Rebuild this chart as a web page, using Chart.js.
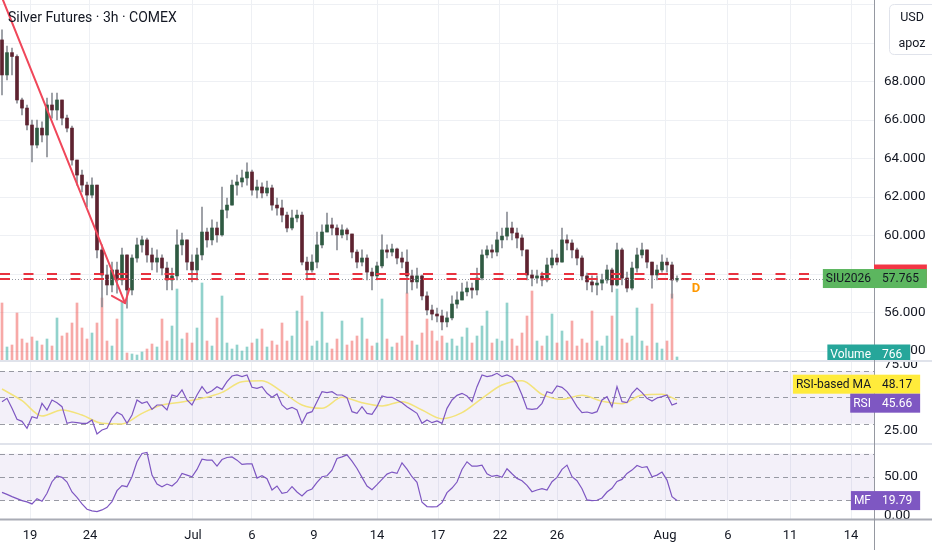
<!DOCTYPE html>
<html><head><meta charset="utf-8">
<script src="https://cdn.jsdelivr.net/npm/chart.js@4.4.1/dist/chart.umd.min.js"></script>
<style>html,body{margin:0;padding:0;background:#fff;overflow:hidden}canvas{display:block}</style>
</head><body>
<canvas id="c" width="932" height="550"></canvas>
<script>
// ---- data (3h bars) ----
const firstOpen = 70.16;
const closes = [68.34,69.50,69.30,67.04,66.62,65.74,64.70,65.58,65.22,66.78,
66.52,67.04,66.10,65.58,63.92,63.14,62.62,62.10,62.62,59.25,
57.95,57.43,58.21,57.69,58.99,57.17,58.83,59.51,59.77,58.99,
58.62,58.83,58.31,57.69,57.90,59.51,59.77,58.62,58.21,58.99,
60.18,59.77,60.39,60.03,61.32,61.58,62.62,62.78,62.99,63.30,
62.36,62.52,62.21,62.47,61.58,61.43,61.06,60.39,60.91,61.06,
58.62,58.21,58.62,59.51,60.18,60.55,60.39,60.03,60.29,60.08,
59.14,58.62,58.83,58.10,57.90,58.42,59.25,59.14,59.30,58.83,
58.62,57.90,57.59,57.90,56.86,56.13,55.92,55.82,55.51,55.72,
56.44,56.65,57.07,57.27,57.17,57.79,58.99,59.25,59.14,59.77,
59.97,60.39,60.13,59.87,59.25,57.95,57.79,57.90,57.69,58.47,
58.83,58.62,59.77,59.61,59.25,58.83,57.90,57.59,57.43,57.53,
57.69,58.21,57.43,59.25,57.79,57.27,58.31,58.99,59.25,58.62,
57.95,58.21,58.62,58.47,57.69,57.765];
const highs = [70.68,69.84,69.74,69.38,67.14,66.78,66.00,66.00,65.90,67.14,
67.40,67.40,67.04,66.26,65.69,63.92,63.40,62.78,62.99,62.62,
59.51,58.47,58.62,58.62,59.35,58.83,58.99,59.87,59.97,59.87,
59.35,59.25,58.99,58.62,58.31,60.29,60.13,59.77,58.99,59.35,
61.48,60.39,60.81,60.70,62.52,61.95,62.88,63.14,63.40,63.77,
63.40,62.88,62.73,62.83,62.62,61.95,61.84,61.22,61.32,61.32,
61.22,58.88,58.99,60.18,60.55,61.17,60.91,60.55,60.55,60.39,
59.97,59.25,59.25,58.99,58.31,58.62,60.03,59.51,59.56,59.35,
59.14,59.25,58.21,58.31,57.95,57.07,56.39,56.23,56.13,56.03,
56.86,57.07,57.53,57.59,57.53,58.31,59.25,59.46,59.51,60.18,
60.39,61.22,60.70,60.39,60.03,59.25,58.21,58.21,58.10,58.83,
59.25,59.04,60.39,60.03,59.77,59.35,58.94,58.05,57.90,57.90,
58.00,58.47,58.31,59.61,59.35,58.10,58.62,59.35,59.61,59.25,
58.62,58.47,58.99,58.83,58.62,57.90];
const lows = [67.30,68.08,68.34,66.88,66.26,65.48,63.82,64.55,64.86,64.08,
66.10,66.00,65.74,65.38,63.66,62.62,62.26,61.48,61.95,58.83,
56.29,56.91,57.07,57.01,57.43,56.23,56.91,58.62,59.14,58.62,
58.21,58.10,57.95,57.17,57.17,57.69,58.99,58.21,57.59,57.69,
58.73,59.40,59.51,59.66,59.97,60.91,61.58,62.10,62.52,62.62,
62.10,61.95,61.95,62.05,61.32,61.06,60.70,60.18,60.29,60.70,
58.47,57.69,58.10,58.31,59.35,60.18,60.03,59.25,59.87,59.77,
58.83,58.31,58.42,57.69,57.17,57.69,58.31,58.83,58.94,58.52,
58.31,57.01,57.17,57.27,56.65,55.87,55.61,55.51,55.09,55.25,
55.61,56.23,56.65,56.86,56.75,56.91,57.69,58.83,58.83,58.94,
59.35,59.77,59.77,59.35,58.94,57.69,57.38,57.53,57.38,57.59,
58.31,58.47,58.62,59.25,58.83,58.47,57.69,57.17,57.07,56.91,
57.17,57.53,57.07,57.38,57.43,57.07,57.17,58.10,58.83,58.31,
57.27,57.69,58.10,58.10,56.75,57.59];
const volumes = [11020,2660,3040,9120,4180,3420,4560,3800,3040,4180,
2850,8170,4750,5320,7220,11020,6270,4180,5320,7220,
11970,3800,2850,7980,11400,1520,1330,1140,1710,2280,
3230,2660,7980,3800,6650,13680,4180,5320,3420,6270,
14820,3800,2850,8170,12350,3420,2280,3040,1900,2660,
3420,4180,6080,2660,3800,3040,7220,3800,4750,9500,
12350,7600,2850,3800,9310,3420,2280,4180,7600,3040,
3800,4750,8170,4180,2850,3420,11780,4180,2660,3420,
4750,12920,3800,3040,5320,7980,5700,3800,4750,3420,
4180,2850,4560,6270,3420,4750,6650,9500,3420,4180,
3800,11020,4180,2850,5320,8550,13300,3800,2850,4750,
8930,3420,5700,3800,7600,2850,4180,3420,9500,3800,
2850,4750,8550,13680,4180,3420,4750,10070,3800,2850,
10830,3420,2280,3800,12730,766];
const rsi = [46.82,49.36,41.73,33.33,31.80,26.46,35.37,34.09,45.55,40.46,
48.09,46.05,43.00,30.27,31.29,30.78,30.27,30.27,32.82,22.13,
25.19,26.46,34.09,38.67,36.64,30.27,36.64,48.09,45.55,46.82,
40.96,44.27,44.27,40.46,51.91,50.64,55.73,48.09,44.27,51.91,
58.27,53.18,55.22,58.27,56.23,62.09,66.41,67.18,65.91,67.18,
57.76,56.99,58.27,53.18,50.13,52.67,44.27,40.96,42.49,40.46,
30.27,37.91,39.18,46.82,54.45,53.69,54.45,51.91,51.91,49.87,
39.18,37.91,43.00,37.91,37.15,43.00,51.14,50.13,50.13,48.09,
46.05,43.00,40.46,37.91,30.27,32.82,30.78,32.06,30.27,41.73,
48.09,51.65,53.18,51.14,46.82,58.27,67.18,65.91,66.67,68.45,
65.91,67.18,65.40,60.82,51.91,41.47,40.96,41.47,45.55,54.45,
53.18,58.78,57.76,54.45,49.36,43.00,38.42,38.93,37.91,39.18,
48.09,50.64,43.00,58.27,46.82,46.05,53.18,57.25,53.69,49.36,
47.33,49.62,50.64,51.91,44.27,45.66];
const rsiMaIdx = [0,4,8,12,16,20,24,28,32,36,40,44,48,52,56,60,64,68,72,76,80,84,88,92,96,100,104,108,112,116,120,124,128,132,135];
const rsiMa = [56.49,47.58,35.87,40.46,36.64,30.27,29.77,37.91,44.27,46.56,49.36,53.94,62.09,62.85,54.45,44.27,41.73,50.13,46.05,43.51,46.82,40.46,33.84,38.42,49.36,59.54,62.85,52.42,48.60,51.65,47.07,45.29,51.91,52.42,48.17];
const mfi = [30.4,27.8,24.9,22.3,19.8,18.1,15.5,22.3,18.9,29.1,
44.0,51.3,49.6,43.6,30.8,24.0,15.5,8.7,6.6,5.7,
7.8,11.2,18.5,32.5,38.9,37.6,50.4,69.6,80.2,81.5,
52.5,41.0,37.6,41.0,38.5,44.0,54.7,52.5,50.4,59.8,
73.0,71.7,71.7,64.0,72.5,75.1,75.9,71.7,66.2,67.0,
67.0,48.7,51.7,47.9,33.4,38.5,29.1,30.4,37.6,30.8,
25.7,32.1,34.7,43.2,50.4,51.7,58.9,73.8,75.9,78.5,
70.4,61.0,49.6,38.5,33.8,40.2,47.0,53.8,56.4,54.7,
68.3,60.2,50.4,43.2,17.6,12.1,11.7,12.1,17.2,30.0,
35.9,43.6,59.8,69.6,64.0,64.0,65.3,54.2,50.8,52.1,
49.6,60.6,54.2,48.3,45.3,39.3,31.2,33.4,35.1,33.4,
44.0,49.6,59.8,65.3,50.4,45.3,35.1,20.6,19.8,20.2,
23.2,30.8,35.5,44.4,47.0,54.7,58.9,64.9,62.3,63.2,
50.4,52.5,56.4,46.1,24.9,19.79];
const tickIdx = [5.6,17.6,38.2,50,62.4,75,87.2,99.6,111,132.6,145.2,157.6,169.8];
const tickLabels = ['19','24','Jul','6','9','14','17','22','26','Aug','6','11','14'];
const priceTicks = [54,56,58,60,62,64,66,68,70,72];
const hiddenPriceLabels = [70,72];
const lastPrice = 57.765;
const lastVolume = 766;
const levelLines = [58.00, 57.74];
const trendFrom = {x:0.2, y:72.23};
const trendTo = {x:24.6, y:56.49};
const divMark = {x:138.8, y:57.22};

// ---- derived ----
const opens = closes.map((c,i)=> i===0 ? firstOpen : closes[i-1]);
const up = closes.map((c,i)=> c >= opens[i]);
const FONT = 'Roboto, "Noto Sans", sans-serif';
const TXT = '#131722';

function rr(ctx,x,y,w,h,r){ctx.beginPath();ctx.moveTo(x+r,y);ctx.lineTo(x+w-r,y);ctx.quadraticCurveTo(x+w,y,x+w,y+r);ctx.lineTo(x+w,y+h-r);ctx.quadraticCurveTo(x+w,y+h,x+w-r,y+h);ctx.lineTo(x+r,y+h);ctx.quadraticCurveTo(x,y+h,x,y+h-r);ctx.lineTo(x,y+r);ctx.quadraticCurveTo(x,y,x+r,y);ctx.closePath();}
function noPad(s){s.paddingTop=0;s.paddingBottom=0;s.paddingLeft=0;s.paddingRight=0;}

const panes = {
  id:'panes',
  beforeDatasetsDraw(chart){
    const {ctx, chartArea:a, scales:{yr, ym}} = chart;
    ctx.save();
    ctx.fillStyle = 'rgba(126,87,194,0.09)';
    let t = yr.getPixelForValue(70), b = yr.getPixelForValue(30);
    ctx.fillRect(a.left, t, a.right-a.left, b-t);
    t = ym.getPixelForValue(80); b = ym.getPixelForValue(20);
    ctx.fillRect(a.left, t, a.right-a.left, b-t);
    ctx.strokeStyle = 'rgba(120,123,134,0.75)';
    ctx.lineWidth = 1; ctx.setLineDash([5,4]);
    const lv = [[yr,70],[yr,50],[yr,30],[ym,80],[ym,50],[ym,20]];
    lv.forEach(([s,v])=>{const y=Math.round(s.getPixelForValue(v))+0.5;ctx.beginPath();ctx.moveTo(a.left,y);ctx.lineTo(a.right,y);ctx.stroke();});
    ctx.restore();
  },
  afterDatasetsDraw(chart){
    const {ctx, chartArea:a, scales:{x, y}} = chart;
    ctx.save();
    ctx.strokeStyle = '#9598a1'; ctx.lineWidth = 1; ctx.setLineDash([1,2]);
    let py = Math.round(y.getPixelForValue(lastPrice))+0.5;
    ctx.beginPath(); ctx.moveTo(a.left,py); ctx.lineTo(a.right,py); ctx.stroke();
    ctx.strokeStyle = '#e8323f'; ctx.lineWidth = 2; ctx.setLineDash([10,13.5]);
    levelLines.forEach(v=>{const yy=y.getPixelForValue(v);ctx.beginPath();ctx.moveTo(a.left,yy);ctx.lineTo(816,yy);ctx.stroke();});
    ctx.setLineDash([]);
    const x0=x.getPixelForValue(trendFrom.x), y0=y.getPixelForValue(trendFrom.y);
    const x1=x.getPixelForValue(trendTo.x), y1=y.getPixelForValue(trendTo.y);
    ctx.strokeStyle='#f0475a'; ctx.lineWidth=2; ctx.lineCap='round';
    ctx.beginPath(); ctx.moveTo(x0,y0); ctx.lineTo(x1,y1); ctx.stroke();
    const ang=Math.atan2(y0-y1,x0-x1), L=15, w=0.68;
    ctx.beginPath();
    ctx.moveTo(x1+L*Math.cos(ang+w), y1+L*Math.sin(ang+w)); ctx.lineTo(x1,y1);
    ctx.lineTo(x1+L*Math.cos(ang-w), y1+L*Math.sin(ang-w)); ctx.stroke();
    ctx.fillStyle='#ff9800'; ctx.font='bold 13px '+FONT; ctx.textAlign='center'; ctx.textBaseline='middle';
    ctx.fillText('D', x.getPixelForValue(divMark.x), y.getPixelForValue(divMark.y));
    ctx.restore();
  },
  afterDraw(chart){
    const {ctx, chartArea:a, scales:{y, yv, yr, ym}} = chart;
    const AX = a.right;
    ctx.save();
    ctx.font='13.5px '+FONT; ctx.fillStyle=TXT; ctx.textAlign='left'; ctx.textBaseline='middle';
    ctx.save(); ctx.beginPath(); ctx.rect(AX,361,58,158); ctx.clip();
    [[yr,75,'75.00'],[yr,25,'25.00'],[ym,50,'50.00'],[ym,0,'0.00']].forEach(([s,v,t])=>ctx.fillText(t, AX+10, s.getPixelForValue(v)));
    ctx.restore();
    ctx.fillStyle='#e0e3eb';
    ctx.fillRect(0,360,932,2); ctx.fillRect(0,443,932,2);
    ctx.fillStyle='#a9acb5'; ctx.fillRect(0,518.5,932,2);
    ctx.fillStyle='#9598a1'; ctx.fillRect(AX,0,1,550);
    ctx.font='12px '+FONT;
    function nameTag(t,yc,bg,fg){const w=ctx.measureText(t).width+6;ctx.fillStyle=bg;ctx.fillRect(AX-w,yc-9.5,w,19);ctx.fillStyle=fg;ctx.textAlign='center';ctx.fillText(t,AX-w/2,yc+0.5);}
    function valTag(t,yc,bg,fg){const w=ctx.measureText(t).width+16;ctx.fillStyle=bg;ctx.fillRect(AX,yc-9.5,w,19);ctx.fillStyle=fg;ctx.textAlign='left';ctx.fillText(t,AX+8,yc+0.5);}
    ctx.textBaseline='middle';
    valTag(levelLines[0].toFixed(3), y.getPixelForValue(levelLines[0]), '#f23645', '#ffffff');
    const lp = y.getPixelForValue(lastPrice);
    nameTag('SIU2026', lp, '#5cb65f', TXT);
    valTag(lastPrice.toFixed(3), lp, '#5cb65f', TXT);
    ctx.save(); ctx.beginPath(); ctx.rect(0,0,932,360); ctx.clip();
    const vp = Math.min(yv.getPixelForValue(lastVolume), 354);
    nameTag('Volume', vp, '#26a69a', '#ffffff');
    valTag(String(lastVolume), vp, '#26a69a', '#ffffff');
    ctx.restore();
    const rsiLast = rsi[rsi.length-1], maLast = rsiMa[rsiMa.length-1];
    const rp = yr.getPixelForValue(rsiLast);
    const mp = Math.min(yr.getPixelForValue(maLast), rp-19);
    nameTag('RSI-based MA', mp, '#ffeb3b', TXT);
    valTag(maLast.toFixed(2), mp, '#ffeb3b', TXT);
    nameTag('RSI', rp, '#7e57c2', '#ffffff');
    valTag(rsiLast.toFixed(2), rp, '#7e57c2', '#ffffff');
    const fp = ym.getPixelForValue(mfi[mfi.length-1]);
    nameTag('MF', fp, '#7e57c2', '#ffffff');
    valTag(mfi[mfi.length-1].toFixed(2), fp, '#7e57c2', '#ffffff');
    ctx.fillStyle='#ffffff'; ctx.strokeStyle='#e0e3eb'; ctx.lineWidth=1;
    rr(ctx,889.5,4.5,50,50,5); ctx.fill(); ctx.stroke();
    ctx.fillStyle=TXT; ctx.font='12.5px '+FONT; ctx.textAlign='center';
    ctx.fillText('USD',912,18); ctx.fillText('apoz',912,44);
    ctx.font='14px '+FONT; ctx.textAlign='left'; ctx.fillStyle=TXT;
    ctx.fillText('Silver Futures \u00b7 3h \u00b7 COMEX', 8, 18);
    ctx.restore();
  }
};

new Chart(document.getElementById('c'), {
  type:'bar',
  data:{datasets:[
    {type:'bar', label:'Volume', yAxisID:'yv', data:volumes.map((v,i)=>({x:i,y:[0,v]})),
     backgroundColor:up.map(u=>u?'rgba(38,166,154,0.5)':'rgba(239,83,80,0.5)'), barThickness:2, grouped:false, order:5},
    {type:'bar', label:'Wicks', yAxisID:'y', data:highs.map((h,i)=>({x:i,y:[Math.min(lows[i],opens[i],closes[i]),Math.max(h,opens[i],closes[i])]})),
     backgroundColor:'#8c8f96', barThickness:1, grouped:false, order:4},
    {type:'bar', label:'Bodies', yAxisID:'y', data:closes.map((c,i)=>({x:i,y:[opens[i],c]})),
     backgroundColor:up.map(u=>u?'#2f5a42':'#5e2330'), barThickness:3, minBarLength:1, grouped:false, order:3},
    {type:'line', label:'RSI-based MA', yAxisID:'yr', data:rsiMaIdx.map((xx,k)=>({x:xx,y:rsiMa[k]})),
     borderColor:'#f3e37c', borderWidth:1.5, pointRadius:0, cubicInterpolationMode:'monotone', order:2},
    {type:'line', label:'RSI', yAxisID:'yr', data:rsi.map((v,i)=>({x:i,y:v})),
     borderColor:'#7e57c2', borderWidth:1.2, pointRadius:0, order:1},
    {type:'line', label:'MF', yAxisID:'ym', data:mfi.map((v,i)=>({x:i,y:v})),
     borderColor:'#7e57c2', borderWidth:1.2, pointRadius:0, order:1}
  ]},
  options:{
    responsive:false, animation:false, events:[],
    layout:{padding:0},
    plugins:{legend:{display:false}, tooltip:{enabled:false}},
    scales:{
      x:{type:'linear', min:-0.4, max:174.4, offset:false,
         afterBuildTicks:s=>{s.ticks=tickIdx.map(v=>({value:v}));},
         ticks:{callback:(v,i)=>tickLabels[i], color:TXT, font:{family:FONT,size:13}, padding:9, maxRotation:0, autoSkip:false},
         grid:{color:'#eef0f4', drawTicks:false, offset:false}, border:{display:false},
         afterFit:s=>{s.height=31;noPad(s);}},
      y:{position:'right', min:45.273, max:72.234,
         afterBuildTicks:s=>{s.ticks=priceTicks.map(v=>({value:v}));},
         ticks:{callback:v=>hiddenPriceLabels.includes(v)?'':Number(v).toFixed(3), color:TXT, font:{family:FONT,size:13.5}, padding:10},
         grid:{color:'#eef0f4', drawTicks:false}, border:{display:false},
         afterFit:s=>{s.width=58;noPad(s);}},
      yv:{display:false, min:-30020, max:68590},
      yr:{display:false, min:-42.75, max:353.44},
      ym:{display:false, min:-3.85, max:662.39}
    }
  },
  plugins:[panes]
});
</script>
</body></html>
